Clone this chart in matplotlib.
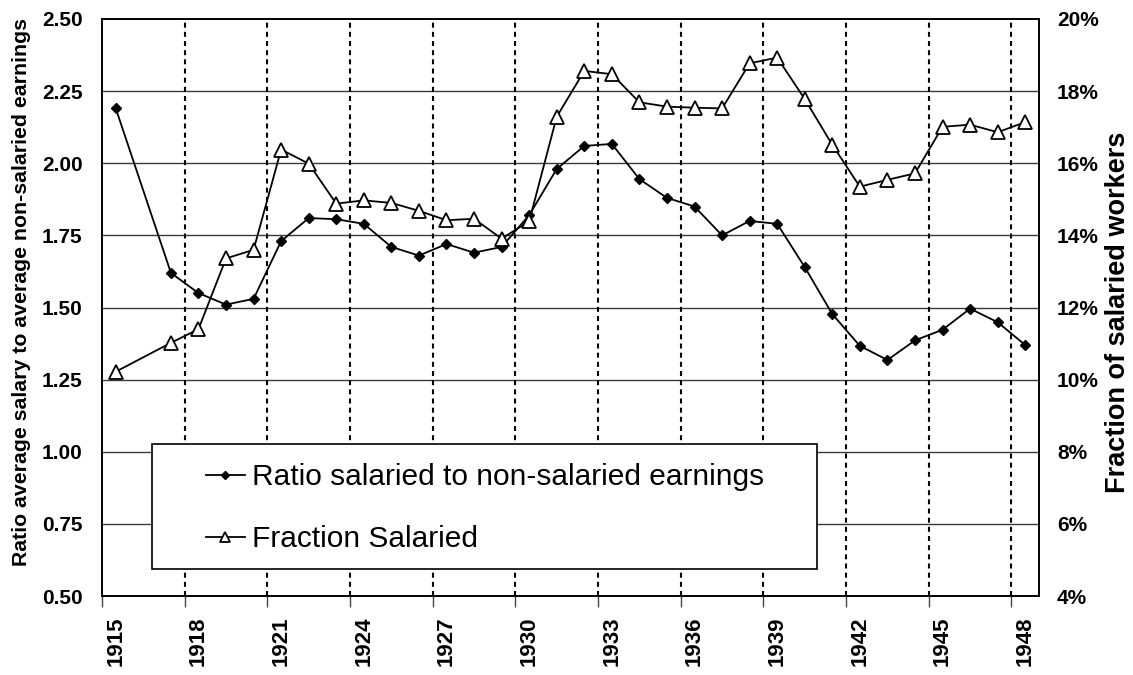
import matplotlib
matplotlib.use("Agg")
import matplotlib.pyplot as plt
from matplotlib.patches import Rectangle
from matplotlib.ticker import FixedLocator, FuncFormatter

plt.rcParams["font.family"] = ["Liberation Sans", "DejaVu Sans"]

# data (1916 has no value)
years = [1915, 1917, 1918, 1919, 1920, 1921, 1922, 1923, 1924, 1925, 1926,
         1927, 1928, 1929, 1930, 1931, 1932, 1933, 1934, 1935, 1936, 1937,
         1938, 1939, 1940, 1941, 1942, 1943, 1944, 1945, 1946, 1947, 1948]
ratio = [2.19, 1.62, 1.55, 1.51, 1.53, 1.73, 1.81, 1.806, 1.79, 1.71, 1.68,
         1.72, 1.69, 1.71, 1.82, 1.98, 2.06, 2.067, 1.945, 1.88, 1.85, 1.75,
         1.80, 1.79, 1.64, 1.477, 1.367, 1.318, 1.386, 1.423, 1.496, 1.449, 1.37]
fraction = [10.22, 11.02, 11.40, 13.36, 13.60, 16.38, 15.99, 14.88, 14.97,
            14.90, 14.68, 14.42, 14.46, 13.91, 14.39, 17.29, 18.56, 18.47,
            17.69, 17.57, 17.54, 17.52, 18.77, 18.93, 17.78, 16.51, 15.35,
            15.54, 15.72, 17.01, 17.07, 16.86, 17.14]

tick_years = list(range(1915, 1949, 3))
left_ticks = [0.50, 0.75, 1.00, 1.25, 1.50, 1.75, 2.00, 2.25, 2.50]
right_ticks = [4, 6, 8, 10, 12, 14, 16, 18, 20]

W, H = 1133, 675
fig = plt.figure(figsize=(W / 100, H / 100), dpi=100)
ax = fig.add_axes([102 / W, 1 - 596 / H, (1039 - 102) / W, (596 - 19) / H])
ax2 = ax.twinx()

ax.set_xlim(1914.5, 1948.5)
ax.set_ylim(0.5, 2.5)

# grid
for v in left_ticks[1:-1]:
    ax.axhline(v, color="#3a3a3a", lw=1.0, zorder=1)
for y in tick_years[1:]:
    ax.axvline(y - 0.5, color="black", lw=1.5, ls=(0, (2.4, 2.0)), zorder=1)

# series
line1, = ax.plot(years, ratio, color="black", lw=1.3, marker="D",
                 markersize=5.5, markerfacecolor="black", zorder=3,
                 label="Ratio salaried to non-salaried earnings")
line2, = ax2.plot(years, fraction, color="black", lw=1.3, marker="^",
                  markersize=9.5, markerfacecolor="white",
                  markeredgecolor="black", markeredgewidth=1.3, zorder=3,
                  label="Fraction Salaried")
ax2.set_ylim(4, 20)

# x axis: labels at category centres, tick marks at category edges
ax.xaxis.set_major_locator(FixedLocator(tick_years))
ax.xaxis.set_minor_locator(FixedLocator([y - 0.5 for y in tick_years]))
ax.tick_params(axis="x", which="major", length=0, pad=15, labelsize=16,
               labelrotation=90)
ax.tick_params(axis="x", which="minor", length=8, width=1.0, color="#444444")
for lab in ax.get_xticklabels():
    lab.set_fontweight("bold")

ax.set_yticks(left_ticks)
ax.yaxis.set_major_formatter(FuncFormatter(lambda v, p: f"{v:.2f}"))
ax.tick_params(axis="y", length=0, pad=14, labelsize=15)
for lab in ax.get_yticklabels():
    lab.set_fontweight("bold")

ax2.set_yticks(right_ticks)
ax2.yaxis.set_major_formatter(FuncFormatter(lambda v, p: f"{v:.0f}%"))
ax2.tick_params(axis="y", length=0, pad=13, labelsize=15)
for lab in ax2.get_yticklabels():
    lab.set_fontweight("bold")

for a in (ax, ax2):
    for s in a.spines.values():
        s.set_color("black")
        s.set_linewidth(1.2)

fig.text(22 / W, 1 - 292 / H,
         "Ratio average salary to average non-salaried earnings",
         rotation=90, ha="center", va="center", fontsize=15.3,
         fontweight="bold")
fig.text(1118 / W, 1 - 312 / H, "Fraction of salaried workers",
         rotation=90, ha="center", va="center", fontsize=19.5,
         fontweight="bold")

# legend box
box = Rectangle((152 / W, 1 - 569 / H), (817 - 152) / W, (569 - 444) / H,
                transform=fig.transFigure, facecolor="white",
                edgecolor="black", lw=1.2, zorder=10)
ax2.add_artist(box)
box.set_clip_on(False)
leg = ax2.legend(handles=[line1, line2], loc="upper left",
                 bbox_to_anchor=(206 / W, 1 - 463 / H),
                 bbox_transform=fig.transFigure, frameon=False,
                 fontsize=21.5, handlelength=1.3, handletextpad=0.25,
                 labelspacing=1.15, borderpad=0, borderaxespad=0)
leg.set_zorder(11)
for h in leg.legend_handles:
    h.set_markersize(h.get_markersize() * 0.8)

fig.savefig("out.png", dpi=100)
